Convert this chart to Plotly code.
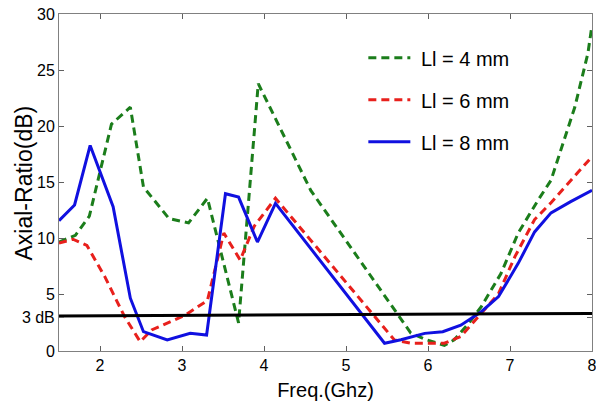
import plotly.graph_objects as go

# Ll = 4 mm (green dashed)
x_l4 = [1.5, 1.7, 1.87, 2.14, 2.37, 2.53, 2.84, 3.08, 3.31, 3.69, 3.93, 4.57, 5.79, 5.98, 6.2, 6.32, 6.5, 6.65, 6.89, 7.1, 7.34, 7.5, 7.79, 7.95, 8.0]
y_l4 = [9.7, 10.3, 12.0, 20.2, 21.7, 14.6, 11.8, 11.4, 13.6, 2.5, 23.8, 14.3, 1.6, 1.0, 0.5, 1.0, 2.5, 3.95, 6.9, 10.5, 13.4, 15.2, 21.7, 26.5, 29.0]

# Ll = 6 mm (red dashed)
x_l6 = [1.5, 1.67, 1.84, 2.06, 2.3, 2.49, 2.63, 3.04, 3.31, 3.51, 3.71, 3.88, 4.14, 5.59, 5.79, 6.2, 6.4, 6.65, 6.86, 7.06, 7.3, 7.5, 7.79, 8.0]
y_l6 = [9.6, 9.95, 9.4, 6.6, 3.05, 0.83, 1.87, 3.2, 4.5, 10.5, 8.1, 11.1, 13.6, 0.98, 0.69, 0.69, 1.3, 3.36, 5.1, 8.4, 11.7, 13.2, 15.6, 17.3]

# Ll = 8 mm (blue solid)
x_l8 = [1.5, 1.69, 1.88, 2.16, 2.37, 2.53, 2.82, 3.04, 3.1, 3.3, 3.53, 3.69, 3.92, 4.14, 5.47, 5.67, 5.96, 6.18, 6.4, 6.65, 6.86, 7.1, 7.3, 7.5, 7.74, 8.0]
y_l8 = [11.6, 13.0, 18.3, 12.85, 4.7, 1.72, 0.98, 1.42, 1.57, 1.42, 14.0, 13.7, 9.7, 13.15, 0.69, 1.0, 1.57, 1.72, 2.3, 3.5, 4.84, 7.8, 10.6, 12.3, 13.3, 14.3]

# 3 dB reference line
x_ref = [1.5, 8.0]
y_ref = [3.12, 3.34]

x_ticks = [2, 3, 4, 5, 6, 7, 8]
y_ticks = [0, 3, 5, 10, 15, 20, 25, 30]
y_ticktext = ["0", "3 dB", "5", "10", "15", "20", "25", "30"]

FONT = "Liberation Sans, Arial, sans-serif"
pad = "\u00a0"

fig = go.Figure()
fig.add_trace(go.Scatter(x=x_l4, y=y_l4, mode="lines", name=pad + "Ll = 4 mm",
                         legendgroup="a",
                         line=dict(color="#1b7d1b", width=3, dash="8px,5px")))
fig.add_trace(go.Scatter(x=x_l6, y=y_l6, mode="lines", name=pad + "Ll = 6 mm",
                         legendgroup="b",
                         line=dict(color="#e8201c", width=3, dash="8px,5px")))
fig.add_trace(go.Scatter(x=x_l8, y=y_l8, mode="lines", name=pad + "Ll = 8 mm",
                         legendgroup="c",
                         line=dict(color="#1010e0", width=3)))
fig.add_trace(go.Scatter(x=x_ref, y=y_ref, mode="lines", showlegend=False,
                         line=dict(color="black", width=3)))

axis_common = dict(showline=True, linecolor="#808080", linewidth=1, mirror="ticks",
                   ticks="inside", ticklen=5, tickcolor="#606060", showgrid=False,
                   zeroline=False, automargin=False, ticklabeloverflow="allow",
                   tickfont=dict(family=FONT, size=16, color="black"))

fig.update_layout(
    width=596, height=403,
    margin=dict(l=59, r=4, t=14, b=52),
    paper_bgcolor="white", plot_bgcolor="white",
    font=dict(family=FONT, color="black"),
    xaxis=dict(range=[1.5, 8], tickvals=x_ticks,
               title=dict(text="Freq.(Ghz)", font=dict(family=FONT, size=20), standoff=9),
               **axis_common),
    yaxis=dict(range=[0, 30], tickvals=y_ticks, ticktext=y_ticktext,
               **axis_common),
    legend=dict(x=0.571, y=0.928, xanchor="left", yanchor="top",
                bgcolor="rgba(0,0,0,0)", borderwidth=0,
                font=dict(family=FONT, size=20, color="black"),
                traceorder="grouped", tracegroupgap=13, itemwidth=42),
    showlegend=True,
    annotations=[dict(text="Axial-Ratio(dB)", textangle=-90, showarrow=False,
                      xref="paper", yref="paper", x=-0.0657, y=0.5,
                      xanchor="center", yanchor="middle",
                      font=dict(family=FONT, size=23, color="black"))],
)

fig.write_html("out.html", config={"displayModeBar": False},
               post_script="document.body.style.margin='0';")
